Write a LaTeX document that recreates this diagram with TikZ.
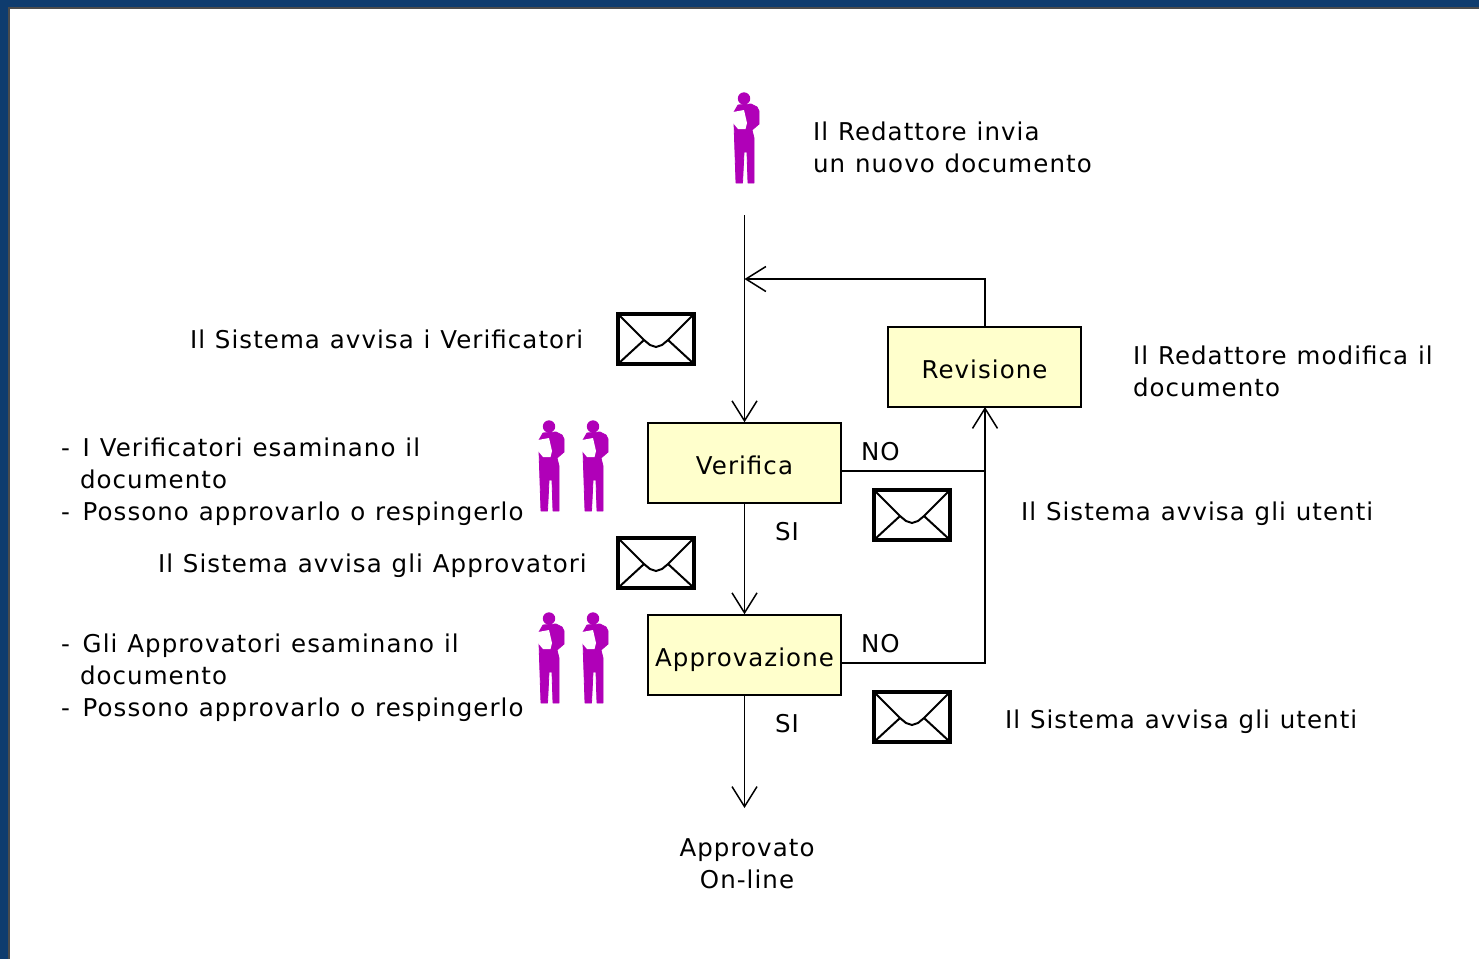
\documentclass[tikz,border=0pt]{standalone}
\usepackage{fontspec}
\setmainfont[LetterSpace=4.3,WordSpace=1.12]{DejaVu Sans}
\usetikzlibrary{arrows.meta}
\definecolor{frameblue}{HTML}{0F3C6E}
\definecolor{boxyellow}{HTML}{FFFFCC}
\definecolor{personpurple}{HTML}{B000B8}
\tikzset{
  x=1pt,y=-1pt,
  label text/.style={inner sep=0pt,outer sep=0pt,anchor=north west,align=left,font=\fontsize{24.5}{32}\selectfont,execute at begin node=\strut},
  center text/.style={label text,anchor=north,align=center},
  stepbox/.style={draw=black,line width=1.5pt,fill=boxyellow,minimum width=193pt,minimum height=80pt,inner sep=0pt,text height=24pt,text depth=2pt,font=\fontsize{24.5}{32}\selectfont},
  flow/.style={draw=black,line width=1.5pt},
  flowarrow/.style={flow,-{Straight Barb[length=20pt,width=25pt,line width=1.5pt]}},
  person/.pic={
    \fill[personpurple] (0,5.5) circle (6.2);
    \filldraw[personpurple,line width=0.8pt,line join=round] (-6,12) -- (7,11) -- (13,14) -- (15,18) -- (15,31) -- (8,37) -- (10,45) -- (10,90) -- (4,90) -- (3,59) -- (0,59) -- (-1.5,90) -- (-8,90) -- (-9,60) -- (-10,30) -- (-10,19) -- cycle;
    \fill[white] (-11,19) -- (0,17) -- (3,30) -- (1.5,36) -- (-6,36) -- (-11,30) -- cycle;
  },
  envelope/.pic={
    \draw[line width=4pt,fill=white] (-38,-25) rectangle (38,25);
    \draw[line width=2pt] (-38,-25) -- (-12,1) -- (-6,6) -- (0,8) -- (6,6) -- (12,1) -- (38,-25);
    \draw[line width=2pt] (-37,24) -- (-12,1) (37,24) -- (12,1);
  },
}
\newcommand{\ind}{\hspace*{19pt}}
\newcommand{\dashgap}{\hspace*{3pt}}
\begin{document}
\begin{tikzpicture}
\useasboundingbox (0,0) rectangle (1479,959);
\fill[frameblue] (0,0) rectangle (1479,959);
\fill[white] (9,8) rectangle (1479,959);
\draw[black!70,line width=1.5pt] (9,959) -- (9,8) -- (1479,8);

\node[stepbox] (ver) at (744.5,463) {Verifica};
\node[stepbox] (app) at (744.5,655) {Approvazione};
\node[stepbox] (rev) at (984.5,367) {Revisione};

\coordinate (start) at (744.5,215);
\coordinate (merge) at (744.5,279);
\coordinate (end) at (744.5,808);
\coordinate (vj) at (985,471);
\coordinate (aj) at (985,663);
\coordinate (vout) at (841,471);
\coordinate (aout) at (841,663);
\coordinate (rin) at (985,407);
\coordinate (rout) at (985,327);

\draw[flowarrow] (start) -- (ver.north);
\draw[flowarrow] (rout) -- (985,279) -- (merge);
\draw[flowarrow] (ver.south) -- (app.north);
\draw[flowarrow] (app.south) -- (end);
\draw[flowarrow] (vout) -- (vj) -- (rin);
\draw[flow] (aout) -- (aj) -- (vj);

\pic at (744,93) {person};
\pic at (549,421) {person};
\pic at (593,421) {person};
\pic at (549,613) {person};
\pic at (593,613) {person};

\pic at (656,339) {envelope};
\pic at (656,563) {envelope};
\pic at (912,515) {envelope};
\pic at (912,717) {envelope};

\node[label text] (t1) at (813,121.6) {Il Redattore invia\\un nuovo documento};
\node[label text] (t2) at (190,325.6) {Il Sistema avvisa i Verificatori};
\node[label text] (t3) at (1133,345.6) {Il Redattore modifica il\\documento};
\node[label text] (t4) at (61,437.6) {-\dashgap{} I Verificatori esaminano il\\\ind documento\\-\dashgap{} Possono approvarlo o respingerlo};
\node[label text] (t5) at (158,549.6) {Il Sistema avvisa gli Approvatori};
\node[label text] (t6) at (61,633.6) {-\dashgap{} Gli Approvatori esaminano il\\\ind documento\\-\dashgap{} Possono approvarlo o respingerlo};
\node[label text] (t7) at (1021,497.6) {Il Sistema avvisa gli utenti};
\node[label text] (t8) at (1005,705.6) {Il Sistema avvisa gli utenti};
\node[label text] (no1) at (861,437.6) {NO};
\node[label text] (no2) at (861,629.6) {NO};
\node[label text] (si1) at (775,517.6) {SI};
\node[label text] (si2) at (775,709.6) {SI};
\node[center text] (t9) at (747,838.6) {Approvato\\On-line};
\end{tikzpicture}
\end{document}
